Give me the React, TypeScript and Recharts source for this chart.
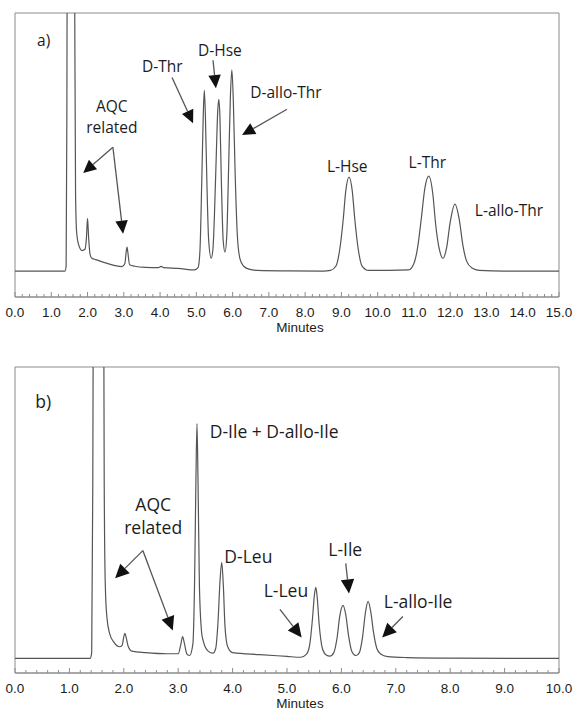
import React from "react";
import {
  LineChart,
  Line,
  XAxis,
  YAxis,
  ReferenceArea,
  ReferenceLine,
  ReferenceDot,
} from "recharts";

// signal, baseline = 0, top of frame = 100
// a) threonine / homoserine isomers, 0-15 min
const solventA: [number, number][] = [
  [0, 0], [1.38, 0], [1.41, 2], [1.43, 60], [1.45, 200], [1.55, 400], [1.63, 200],
  [1.65, 90], [1.67, 30], [1.7, 15], [1.76, 10], [1.85, 8], [1.93, 8.5], [1.97, 13],
  [2.0, 20.5], [2.03, 13], [2.07, 6.5], [2.12, 5], [2.2, 4.6], [2.5, 3.2], [2.95, 1.8],
  [3.03, 3], [3.07, 8], [3.09, 9.3], [3.11, 7.5], [3.16, 2.5], [3.3, 1.9], [3.6, 1.5],
  [3.95, 1.4], [4.03, 1.9], [4.1, 1.4], [4.5, 1.1], [4.95, 0.5],
];
const dPeaksA: [number, number][] = [
  [5.05, 1.5], [5.1, 8], [5.15, 35], [5.19, 60], [5.22, 70], [5.25, 60], [5.29, 35],
  [5.34, 12], [5.41, 5], [5.46, 9], [5.5, 22], [5.55, 45], [5.59, 62], [5.62, 66.6],
  [5.65, 60], [5.69, 35], [5.74, 12], [5.79, 7.4], [5.84, 14], [5.89, 40], [5.94, 68],
  [5.98, 78], [6.02, 66], [6.07, 38], [6.13, 14], [6.2, 5], [6.3, 2], [6.45, 0.8],
  [6.7, 0.3], [7.5, 0.1], [8.5, 0],
];
const lPeaksA: [number, number][] = [
  [8.7, 0.3], [8.85, 2], [8.95, 8], [9.05, 20], [9.12, 31], [9.21, 36.4], [9.3, 31],
  [9.37, 20], [9.47, 8], [9.57, 2], [9.75, 0.3], [10.85, 0.5], [11.0, 3], [11.1, 9],
  [11.2, 20], [11.3, 32], [11.41, 36.8], [11.52, 30], [11.6, 18], [11.7, 8.5], [11.8, 5],
  [11.9, 9], [12.0, 19], [12.13, 26], [12.25, 20], [12.35, 10], [12.45, 4], [12.6, 1.2],
  [12.8, 0.3], [13.5, 0], [15, 0],
];

// b) leucine / isoleucine isomers, 0-10 min
const solventB: [number, number][] = [
  [0, 0], [1.38, 0], [1.41, 2], [1.43, 60], [1.45, 200], [1.53, 400], [1.62, 200],
  [1.64, 60], [1.66, 25], [1.69, 14], [1.74, 8.5], [1.82, 5.5], [1.92, 4], [1.97, 4.5],
  [2.0, 7.5], [2.02, 8.6], [2.04, 7.5], [2.08, 4.2], [2.15, 2.5], [2.4, 2], [2.8, 1.6],
  [3.0, 1.6], [3.05, 5], [3.08, 7.5], [3.11, 5.5], [3.16, 1.5], [3.21, 1],
];
const dPeaksB: [number, number][] = [
  [3.27, 5], [3.3, 25], [3.325, 60], [3.345, 80.6], [3.365, 60], [3.39, 25], [3.43, 9],
  [3.46, 6], [3.55, 2.5], [3.64, 1.8], [3.69, 3.5], [3.73, 12], [3.77, 27], [3.8, 33],
  [3.83, 25], [3.86, 11], [3.91, 4], [4.0, 2], [4.5, 1.3], [5.0, 0.7], [5.25, 0.4],
];
const lPeaksB: [number, number][] = [
  [5.36, 1.5], [5.42, 5], [5.47, 14], [5.505, 22], [5.53, 24.4], [5.555, 21], [5.59, 12],
  [5.65, 3.5], [5.72, 1.2], [5.79, 0.8], [5.86, 2], [5.92, 7], [5.97, 14.5], [6.03, 18.2],
  [6.08, 15], [6.13, 8], [6.19, 2.5], [6.27, 1], [6.33, 2], [6.39, 7.5], [6.44, 15.5],
  [6.49, 19.6], [6.54, 16], [6.59, 9], [6.65, 3.5], [6.72, 1.5], [6.85, 0.6], [7.2, 0.3],
  [8, 0.1], [10, 0],
];

const majorTicksA = [0, 1, 2, 3, 4, 5, 6, 7, 8, 9, 10, 11, 12, 13, 14, 15];
const majorTicksB = [0, 1, 2, 3, 4, 5, 6, 7, 8, 9, 10];

type Note = { text: string; t: number; v: number; anchor?: "start" | "middle" };
type Arrow = { from: [number, number]; to: [number, number] };

const labelsA: Note[] = [
  { text: "a)", t: 0.79, v: 89.5 },
  { text: "AQC", t: 2.67, v: 63.7 },
  { text: "related", t: 2.67, v: 55.7 },
  { text: "D-Thr", t: 4.06, v: 79.4 },
  { text: "D-Hse", t: 5.65, v: 85.6 },
  { text: "D-allo-Thr", t: 7.47, v: 69.3 },
  { text: "L-Hse", t: 9.16, v: 40.7 },
  { text: "L-Thr", t: 11.37, v: 42.2 },
  { text: "L-allo-Thr", t: 13.62, v: 23.6 },
];
const arrowsA: Arrow[] = [
  { from: [2.7, 48], to: [1.88, 38] },
  { from: [2.7, 48], to: [2.98, 14.5] },
  { from: [4.33, 75], to: [4.91, 57.3] },
  { from: [5.46, 81.7], to: [5.54, 70.9] },
  { from: [7.5, 62.7], to: [6.26, 52.7] },
];

const labelsB: Note[] = [
  { text: "b)", t: 0.52, v: 88 },
  { text: "AQC", t: 2.54, v: 52.7 },
  { text: "related", t: 2.54, v: 45 },
  { text: "D-Ile + D-allo-Ile", t: 3.58, v: 77.9, anchor: "start" },
  { text: "D-Leu", t: 4.29, v: 34.8 },
  { text: "L-Leu", t: 4.98, v: 23.3 },
  { text: "L-Ile", t: 6.07, v: 37.4 },
  { text: "L-allo-Ile", t: 7.41, v: 19.4 },
];
const arrowsB: Arrow[] = [
  { from: [2.35, 37], to: [1.84, 27.5] },
  { from: [2.35, 37], to: [2.9, 9.6] },
  { from: [4.87, 16.8], to: [5.27, 7.2] },
  { from: [6.08, 32.6], to: [6.14, 22.3] },
  { from: [7.13, 14.4], to: [6.75, 7.2] },
];

const toRows = (...parts: [number, number][][]) =>
  parts.flat().map(([t, s]) => ({ t, s }));

const withMinors = (majors: number[]) => {
  const out: number[] = [];
  majors.forEach((m, i) => {
    out.push(m);
    if (i < majors.length - 1) for (let k = 1; k < 5; k++) out.push(+(m + k * 0.2).toFixed(1));
  });
  return out;
};

const FRAME = "#8c8c8c";
const TRACE = "#555";
const INK = "#1c1c1c";
const NOTE_FONT = "'Open Sans', 'Noto Sans', sans-serif";
const AXIS_FONT = "'Liberation Sans', Arial, sans-serif";
const AXIS_SIZE = 13.5;

const MinuteTick = (props: any) => {
  const { x, y, payload } = props;
  const v = payload.value as number;
  const major = Math.abs(v - Math.round(v)) < 1e-6;
  return (
    <g>
      <line x1={x} y1={y} x2={x} y2={y - (major ? 5 : 3)} stroke={FRAME} />
      {major && (
        <text x={x} y={y + 20} textAnchor="middle" fontSize={AXIS_SIZE} fontFamily={AXIS_FONT} fill={INK}>
          {v.toFixed(1)}
        </text>
      )}
    </g>
  );
};

const ArrowShape = ({ x1, y1, x2, y2, head }: any) => {
  const dx = x2 - x1;
  const dy = y2 - y1;
  const len = Math.hypot(dx, dy) || 1;
  const ux = dx / len;
  const uy = dy / len;
  const half = head * 0.48;
  const bx = x2 - ux * head;
  const by = y2 - uy * head;
  const pts = `${x2},${y2} ${bx - uy * half},${by + ux * half} ${bx + uy * half},${by - ux * half}`;
  return (
    <g>
      <line x1={x1} y1={y1} x2={bx} y2={by} stroke={TRACE} strokeWidth={1.3} />
      <polygon points={pts} fill="#111" />
    </g>
  );
};

type PanelProps = {
  rows: { t: number; s: number }[];
  xMax: number;
  yMin: number;
  majors: number[];
  labels: Note[];
  arrows: Arrow[];
  height: number;
  top: number;
  bottom: number;
  axisHeight: number;
  noteSize: number;
  head: number;
};

function Panel(p: PanelProps) {
  return (
    <LineChart
      width={582}
      height={p.height}
      data={p.rows}
      margin={{ top: p.top, right: 23, bottom: p.bottom, left: 15 }}
    >
      <XAxis
        type="number"
        dataKey="t"
        domain={[0, p.xMax]}
        ticks={withMinors(p.majors)}
        interval={0}
        tickSize={0}
        tickMargin={0}
        tickLine={false}
        axisLine={{ stroke: FRAME }}
        tick={(tp: any) => <MinuteTick {...tp} />}
        height={p.axisHeight}
        allowDataOverflow
        label={(lp: any) => {
          const vb = lp.viewBox || {};
          return (
            <text
              x={vb.x + vb.width / 2 + 13}
              y={vb.y + 35}
              textAnchor="middle"
              fontSize={AXIS_SIZE}
              fontFamily={AXIS_FONT}
              fill={INK}
            >
              Minutes
            </text>
          );
        }}
      />
      <YAxis hide width={0} type="number" domain={[p.yMin, 100]} allowDataOverflow />
      <ReferenceArea
        x1={0}
        x2={p.xMax}
        y1={p.yMin}
        y2={100}
        fill="none"
        stroke={FRAME}
        strokeWidth={1}
        ifOverflow="visible"
      />
      <Line
        type="monotone"
        dataKey="s"
        stroke={TRACE}
        strokeWidth={1.2}
        dot={false}
        activeDot={false}
        isAnimationActive={false}
      />
      {p.arrows.map((a, i) => (
        <ReferenceLine
          key={`ar${i}`}
          ifOverflow="visible"
          segment={[
            { x: a.from[0], y: a.from[1] },
            { x: a.to[0], y: a.to[1] },
          ]}
          shape={(sp: any) => <ArrowShape {...sp} head={p.head} />}
        />
      ))}
      {p.labels.map((l, i) => (
        <ReferenceDot
          key={`lb${i}`}
          x={l.t}
          y={l.v}
          r={1}
          ifOverflow="visible"
          shape={(dp: any) => (
            <text
              x={dp.cx}
              y={dp.cy + 0.36 * p.noteSize}
              textAnchor={l.anchor ?? "middle"}
              fontSize={p.noteSize}
              fontFamily={NOTE_FONT}
              fill={INK}
            >
              {l.text}
            </text>
          )}
        />
      ))}
    </LineChart>
  );
}

export default function App() {
  return (
    <div style={{ position: "absolute", left: 0, top: 0, width: 582, height: 710, background: "#fff" }}>
      <Panel
        rows={toRows(solventA, dPeaksA, lPeaksA)}
        xMax={15}
        yMin={-10}
        majors={majorTicksA}
        labels={labelsA}
        arrows={arrowsA}
        height={340}
        top={13}
        bottom={3}
        axisHeight={40}
        noteSize={15.5}
        head={13}
      />
      <Panel
        rows={toRows(solventB, dPeaksB, lPeaksB)}
        xMax={10}
        yMin={-5}
        majors={majorTicksB}
        labels={labelsB}
        arrows={arrowsB}
        height={370}
        top={27}
        bottom={1}
        axisHeight={36}
        noteSize={17.5}
        head={14}
      />
    </div>
  );
}
